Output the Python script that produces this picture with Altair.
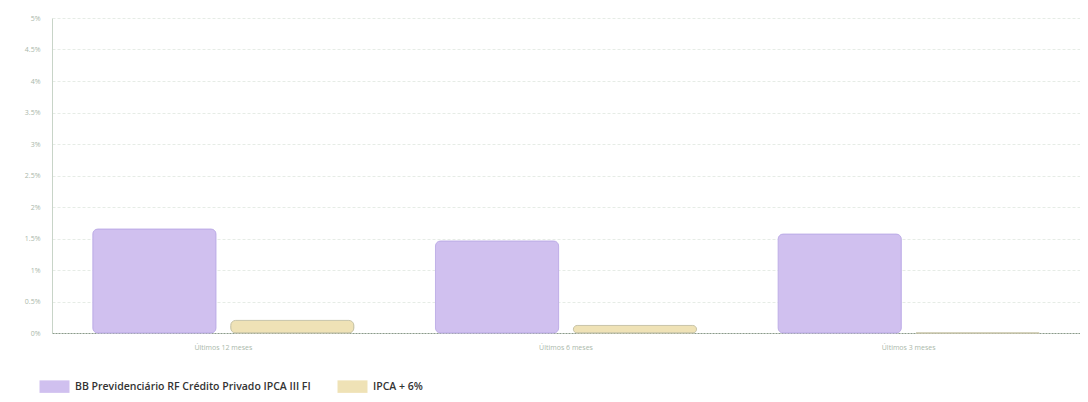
import altair as alt
import pandas as pd

categories = ["Últimos 12 meses", "Últimos 6 meses", "Últimos 3 meses"]
fund_values = [1.65, 1.46, 1.57]
ipca_values = [0.20, 0.12, 0.0]
series_names = ["BB Previdenciário RF Crédito Privado IPCA III FI", "IPCA + 6%"]
y_ticks = [0, 0.5, 1, 1.5, 2, 2.5, 3, 3.5, 4, 4.5, 5]

rows = []
for c, f, i in zip(categories, fund_values, ipca_values):
    rows.append({"cat": c, "serie": series_names[0], "valor": f})
    rows.append({"cat": c, "serie": series_names[1], "valor": i})
df = pd.DataFrame(rows)

chart = alt.Chart(df).mark_bar(
    cornerRadius=5, strokeWidth=1
).encode(
    x=alt.X("cat:N", sort=categories, title=None,
            scale=alt.Scale(paddingInner=0, paddingOuter=0),
            axis=alt.Axis(labelAngle=0, labelFontSize=7, labelColor="#aab8aa",
                          labelFont="Open Sans", ticks=False, domainColor="#8a9a8a",
                          domainDash=[2, 1], labelPadding=10)),
    xOffset=alt.XOffset("serie:N", sort=series_names,
                        scale=alt.Scale(paddingInner=0.107, paddingOuter=0.296)),
    y=alt.Y("valor:Q", title=None,
            scale=alt.Scale(domain=[0, 5], nice=False),
            axis=alt.Axis(values=y_ticks, labelExpr="datum.value + '%'",
                          labelFontSize=7, labelColor="#aab8aa", labelFont="Open Sans",
                          ticks=False, domainColor="#c8d4c8", gridColor="#e6ece6",
                          gridDash=[3, 2], labelPadding=12)),
    color=alt.Color("serie:N", sort=series_names,
                    scale=alt.Scale(domain=series_names, range=["#d0c0ef", "#efe2b6"]),
                    legend=alt.Legend(title=None, orient="none", direction="horizontal",
                                      legendX=-10, legendY=356,
                                      symbolType="M-1.2,-0.5H1.2V0.5H-1.2Z",
                                      symbolSize=625, symbolStrokeWidth=0,
                                      symbolOpacity=1,
                                      labelFont="Open Sans", labelFontSize=10.5,
                                      labelFontWeight=600, labelColor="#333333",
                                      labelLimit=400, columnPadding=26, labelOffset=8)),
    stroke=alt.Stroke("serie:N", sort=series_names,
                      scale=alt.Scale(domain=series_names, range=["#c0b0e8", "#c8c4a8"]),
                      legend=None),
).properties(
    width=1028, height=315,
    padding={"left": 16, "top": 6, "right": 0, "bottom": 5}
).configure_view(stroke=None)

chart.save("out.html", embed_options={"renderer": "svg", "actions": False})
